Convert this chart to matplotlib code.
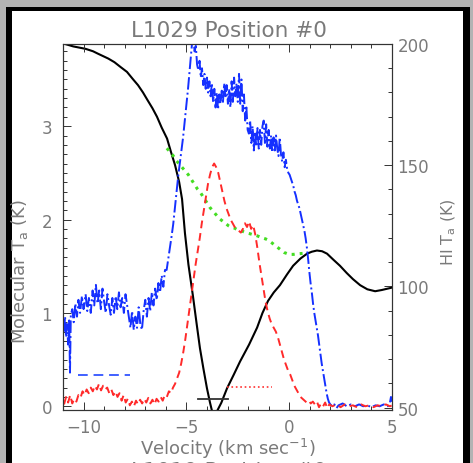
import numpy as np
import matplotlib
matplotlib.use("Agg")
import matplotlib.pyplot as plt
from matplotlib.patches import Rectangle
from matplotlib.ticker import MultipleLocator

plt.rcParams['font.family'] = ['DejaVu Sans']
plt.rcParams['mathtext.fontset'] = 'dejavusans'

# =========================
# DATA
# =========================
# molecular line, blue (left axis, K)
blue_v = [-10.95, -10.9, -10.85, -10.8, -10.75, -10.7, -10.66, -10.62, -10.55, -10.48,
          -10.4, -10.32, -10.25, -10.17, -10.08, -10.0, -9.9, -9.82, -9.74, -9.65,
          -9.56, -9.48, -9.4, -9.32, -9.24, -9.16, -9.08, -9.0, -8.92, -8.84,
          -8.76, -8.68, -8.6, -8.52, -8.44, -8.36, -8.28, -8.2, -8.12, -8.04,
          -7.96, -7.88, -7.8, -7.72, -7.64, -7.56, -7.48, -7.4, -7.32, -7.24,
          -7.16, -7.08, -7.0, -6.92, -6.84, -6.76, -6.68, -6.6, -6.52, -6.44,
          -6.36, -6.28, -6.2, -6.12, -6.04, -5.96, -5.88, -5.8, -5.72, -5.64,
          -5.56, -5.48, -5.4, -5.32, -5.24, -5.16, -5.08, -5.0, -4.92, -4.85,
          -4.78, -4.72, -4.66, -4.6, -4.54, -4.48, -4.42, -4.36, -4.3, -4.24,
          -4.18, -4.12, -4.06, -4.0, -3.94, -3.88, -3.82, -3.76, -3.7, -3.64,
          -3.58, -3.52, -3.46, -3.4, -3.34, -3.28, -3.22, -3.16, -3.1, -3.04,
          -2.98, -2.92, -2.86, -2.8, -2.74, -2.68, -2.62, -2.56, -2.5, -2.44,
          -2.38, -2.32, -2.26, -2.2, -2.14, -2.08, -2.02, -1.96, -1.9, -1.84,
          -1.78, -1.72, -1.66, -1.6, -1.54, -1.48, -1.42, -1.36, -1.3, -1.24,
          -1.18, -1.12, -1.06, -1.0, -0.94, -0.88, -0.82, -0.76, -0.7, -0.64,
          -0.58, -0.52, -0.46, -0.4, -0.34, -0.28, -0.22, -0.16, -0.1, -0.04,
          0.02, 0.08, 0.14, 0.2, 0.26, 0.32, 0.38, 0.44, 0.5, 0.56,
          0.62, 0.68, 0.74, 0.8, 0.86, 0.92, 0.98, 1.04, 1.1, 1.16,
          1.22, 1.28, 1.34, 1.4, 1.46, 1.52, 1.58, 1.64, 1.7, 1.76,
          1.82, 1.88, 1.94, 2.0, 2.1, 2.2, 2.3, 2.4, 2.6, 2.8,
          3.0, 3.2, 3.4, 3.6, 3.8, 4.0, 4.2, 4.4, 4.6, 4.8,
          4.9, 4.95, 5.0]
blue_t = [0.80, 0.96, 0.74, 0.88, 0.66, 0.92, 0.36, 0.98, 1.04, 0.90,
          1.10, 0.96, 1.14, 1.00, 1.18, 1.04, 1.20, 1.02, 1.16, 1.00,
          1.24, 1.08, 1.30, 1.10, 1.24, 1.04, 1.26, 1.12, 1.00, 1.20,
          1.08, 0.98, 1.16, 1.00, 1.18, 1.04, 1.22, 1.06, 1.16, 1.00,
          1.20, 1.08, 0.96, 0.84, 1.02, 0.82, 0.96, 0.84, 1.06, 0.88,
          0.82, 1.02, 1.14, 0.96, 1.16, 1.02, 1.22, 1.08, 1.26, 1.14,
          1.32, 1.22, 1.40, 1.28, 1.46, 1.46, 1.58, 1.70, 1.82, 1.95,
          2.12, 2.30, 2.46, 2.60, 2.74, 2.88, 3.05, 3.22, 3.40, 3.58,
          3.75, 3.90, 3.95, 3.80, 3.86, 3.66, 3.60, 3.70, 3.52, 3.62,
          3.44, 3.56, 3.40, 3.52, 3.36, 3.48, 3.32, 3.46, 3.26, 3.40,
          3.20, 3.36, 3.18, 3.34, 3.24, 3.38, 3.26, 3.46, 3.30, 3.44,
          3.24, 3.40, 3.20, 3.48, 3.26, 3.52, 3.32, 3.46, 3.26, 3.56,
          3.24, 3.50, 3.16, 3.34, 3.06, 3.20, 2.96, 2.92, 3.06, 2.82,
          3.00, 2.74, 2.94, 2.78, 2.98, 2.76, 2.96, 2.80, 3.00, 3.06,
          2.82, 3.02, 2.78, 2.96, 2.76, 2.90, 2.72, 2.88, 2.74, 2.90,
          2.76, 2.68, 2.88, 2.70, 2.62, 2.72, 2.56, 2.64, 2.54, 2.50,
          2.48, 2.44, 2.40, 2.36, 2.30, 2.26, 2.20, 2.16, 2.12, 2.06,
          2.00, 1.94, 1.88, 1.80, 1.70, 1.58, 1.44, 1.32, 1.22, 1.10,
          1.00, 0.92, 0.84, 0.76, 0.66, 0.56, 0.46, 0.38, 0.30, 0.22,
          0.14, 0.08, 0.04, 0.02, 0.00, 0.02, -0.02, 0.01, 0.03, 0.00,
          0.02, 0.00, 0.02, 0.00, 0.01, -0.01, 0.01, 0.00, 0.02, 0.00,
          0.04, 0.10, 0.05]

# molecular line, red (left axis, K)
red_v = [-10.95, -10.85, -10.75, -10.65, -10.55, -10.45, -10.35, -10.25, -10.15, -10.05,
         -9.95, -9.85, -9.75, -9.65, -9.55, -9.45, -9.35, -9.25, -9.15, -9.05,
         -8.95, -8.85, -8.75, -8.65, -8.55, -8.45, -8.35, -8.25, -8.15, -8.05,
         -7.95, -7.85, -7.75, -7.65, -7.55, -7.45, -7.35, -7.25, -7.15, -7.05,
         -6.95, -6.85, -6.75, -6.65, -6.55, -6.45, -6.35, -6.25, -6.15, -6.05,
         -5.95, -5.85, -5.75, -5.65, -5.55, -5.45, -5.35, -5.25, -5.15, -5.05,
         -4.95, -4.85, -4.75, -4.65, -4.55, -4.45, -4.35, -4.25, -4.15, -4.05,
         -3.95, -3.85, -3.75, -3.65, -3.55, -3.45, -3.35, -3.25, -3.15, -3.05,
         -2.95, -2.85, -2.75, -2.65, -2.55, -2.45, -2.35, -2.25, -2.15, -2.05,
         -1.95, -1.85, -1.75, -1.65, -1.55, -1.45, -1.35, -1.25, -1.15, -1.05,
         -0.95, -0.85, -0.75, -0.65, -0.55, -0.45, -0.35, -0.25, -0.15, -0.05,
         0.05, 0.15, 0.25, 0.35, 0.45, 0.55, 0.65, 0.75, 0.85, 0.95,
         1.05, 1.15, 1.25, 1.35, 1.45, 1.55, 1.65, 1.75, 1.85, 1.95,
         2.1, 2.3, 2.5, 2.7, 2.9, 3.1, 3.3, 3.5, 3.7, 3.9,
         4.1, 4.3, 4.5, 4.7, 4.9, 5.0]
red_t = [0.02, 0.10, 0.04, 0.12, 0.03, 0.08, 0.05, 0.12, 0.09, 0.16,
         0.12, 0.18, 0.14, 0.20, 0.16, 0.22, 0.18, 0.24, 0.17, 0.22,
         0.18, 0.20, 0.14, 0.18, 0.12, 0.16, 0.10, 0.14, 0.06, 0.12,
         0.04, 0.08, 0.01, 0.05, 0.00, 0.06, 0.02, 0.07, 0.03, 0.08,
         0.04, 0.09, 0.03, 0.07, 0.02, 0.08, 0.05, 0.10, 0.06, 0.12,
         0.10, 0.16, 0.14, 0.20, 0.24, 0.30, 0.36, 0.46, 0.58, 0.72,
         0.88, 1.04, 1.20, 1.36, 1.52, 1.66, 1.80, 1.96, 2.10, 2.24,
         2.38, 2.48, 2.56, 2.60, 2.56, 2.50, 2.40, 2.30, 2.20, 2.12,
         2.06, 2.00, 1.96, 1.92, 1.90, 1.88, 1.86, 1.90, 1.96, 1.92,
         1.98, 1.90, 1.94, 1.84, 1.70, 1.54, 1.40, 1.26, 1.12, 1.02,
         0.94, 0.88, 0.84, 0.80, 0.74, 0.66, 0.58, 0.50, 0.44, 0.38,
         0.34, 0.28, 0.22, 0.18, 0.14, 0.10, 0.08, 0.06, 0.04, 0.06,
         0.03, 0.05, 0.02, 0.05, -0.01, 0.03, 0.00, 0.04, -0.02, 0.02,
         0.00, 0.02, -0.01, 0.02, 0.00, 0.01, -0.01, 0.02, 0.00, 0.01,
         -0.01, 0.01, 0.00, 0.02, 0.00, 0.01]

# HI spectrum, black (right axis, K)
hi_v = [-11.0, -10.9, -10.7, -10.5, -10.2, -9.9, -9.54, -9.3, -9.05, -8.8,
        -8.5, -8.2, -7.89, -7.6, -7.35, -7.11, -6.9, -6.65, -6.43, -6.2,
        -5.94, -5.75, -5.55, -5.35, -5.21, -5.07, -4.9, -4.68, -4.5, -4.34,
        -4.17, -4.0, -3.85, -3.75, -3.51, -3.3, -3.02, -2.7, -2.39, -1.95,
        -1.56, -1.3, -1.03, -0.75, -0.45, -0.1, 0.19, 0.55, 0.87, 1.1,
        1.35, 1.6, 1.84, 2.15, 2.47, 2.8, 3.1, 3.45, 3.8, 4.18,
        4.5, 4.75, 5.0]
hi_t = [200.5, 200.0, 199.5, 199.0, 198.5, 198.0, 197.0, 196.0, 195.0, 194.0,
        192.5, 190.5, 188.5, 185.5, 183.0, 180.0, 177.0, 173.5, 170.0, 165.5,
        161.0, 155.5, 150.0, 143.0, 136.0, 122.0, 109.0, 96.0, 84.5, 74.5,
        66.0, 58.0, 52.0, 48.5, 48.5, 52.0, 58.0, 63.5, 69.0, 76.0,
        83.0, 89.0, 94.0, 97.5, 100.5, 105.0, 108.5, 111.5, 113.5, 114.3,
        114.8, 114.5, 113.5, 111.0, 108.5, 105.5, 103.0, 100.5, 98.8, 98.0,
        98.5, 99.0, 99.5]

# green curve (right axis, K)
green_v = [-5.95, -5.8, -5.65, -5.5, -5.35, -5.2, -5.05, -4.9, -4.75, -4.6,
           -4.45, -4.3, -4.15, -4.0, -3.85, -3.7, -3.55, -3.4, -3.25, -3.1,
           -2.95, -2.8, -2.65, -2.5, -2.35, -2.2, -2.05, -1.9, -1.75, -1.6,
           -1.45, -1.3, -1.15, -1.0, -0.85, -0.7, -0.55, -0.4, -0.25, -0.1,
           0.05, 0.2, 0.35, 0.5, 0.65]
green_t = [157.0, 155.5, 154.0, 152.0, 150.5, 149.0, 147.5, 146.0, 144.0, 142.0,
           140.0, 138.5, 136.5, 134.5, 132.5, 131.0, 129.5, 128.0, 127.0, 126.0,
           125.0, 124.3, 124.0, 123.3, 123.0, 122.5, 122.0, 121.7, 121.3, 121.0,
           120.5, 120.0, 119.6, 119.0, 118.0, 117.0, 116.0, 115.0, 114.0, 113.5,
           113.2, 113.2, 113.4, 113.5, 113.6]

# reference bars
blue_bar_v, blue_bar_t = [-10.27, -7.74], [0.34, 0.34]
red_bar_v, red_bar_t = [-3.02, -0.83], [0.21, 0.21]
black_bar_v, black_bar_t = [-4.43, -2.97], [53.7, 53.7]

# =========================
# FIGURE
# =========================
W, H = 473, 464
fig = plt.figure(figsize=(W / 100, H / 100), dpi=100, facecolor='#b3b3b3')

# frame around the panel
fig.patches.append(Rectangle((6 / W, 0), 464 / W, 456 / H, transform=fig.transFigure,
                             facecolor='black', edgecolor='none', zorder=-2))
fig.patches.append(Rectangle((12 / W, 0), 451 / W, 452 / H, transform=fig.transFigure,
                             facecolor='white', edgecolor='none', zorder=-1))

ax = fig.add_axes([63 / W, 53 / H, 329 / W, 366 / H])
ax2 = ax.twinx()
ax.set_zorder(ax2.get_zorder() + 1)
ax.patch.set_visible(False)

txt = '#7a7a7a'

ax.plot(blue_v, blue_t, color='#1530ff', lw=1.4, ls='-.')
ax.plot(red_v, red_t, color='#ff2a2a', lw=1.4, ls=(0, (4, 2.5)))
ax.plot(blue_bar_v, blue_bar_t, color='#4060ff', lw=1.4, ls=(0, (5, 3)))
ax.plot(red_bar_v, red_bar_t, color='#ff3030', lw=1.2, ls=':')

ax2.plot(hi_v, hi_t, color='black', lw=1.5)
ax2.plot(green_v, green_t, color='#44dd22', lw=2.2, ls=':')
ax2.plot(black_bar_v, black_bar_t, color='#333333', lw=1.3)

ax.set_xlim(-11, 5)
ax.set_ylim(-0.04, 3.88)
ax2.set_ylim(49, 200)

ax.xaxis.set_major_locator(MultipleLocator(5))
ax.xaxis.set_minor_locator(MultipleLocator(1))
ax.yaxis.set_major_locator(MultipleLocator(1))
ax.yaxis.set_minor_locator(MultipleLocator(0.1))
ax2.yaxis.set_major_locator(MultipleLocator(50))
ax2.yaxis.set_minor_locator(MultipleLocator(10))

ax.tick_params(which='both', direction='in', top=True, right=False,
               colors='#333333', labelcolor=txt, labelsize=12, width=0.7)
ax.tick_params(axis='x', which='major', length=6, pad=6)
ax.tick_params(axis='y', which='major', length=6, pad=8)
ax.tick_params(which='minor', length=3)
ax2.tick_params(which='both', direction='in', colors='#333333', labelcolor=txt,
                labelsize=12, width=0.7)
ax2.tick_params(which='major', length=6, pad=4)
ax2.tick_params(which='minor', length=3)

for a in (ax, ax2):
    for s in a.spines.values():
        s.set_color('#333333')
        s.set_linewidth(0.8)

ax.set_xlabel('Velocity (km sec$^{-1}$)', color=txt, fontsize=13, labelpad=0)
ax.set_ylabel('Molecular T$_\\mathrm{a}$ (K)', color=txt, fontsize=13)
ax.yaxis.set_label_coords(-0.10, 0.38)
ax2.set_ylabel('HI T$_\\mathrm{a}$ (K)', color=txt, fontsize=11.5, rotation=90)
ax2.yaxis.set_label_coords(1.146, 0.49)

fig.text(229 / W, 1 - 31 / H, 'L1029 Position #0', ha='center', va='center',
         color=txt, fontsize=15.5)
fig.text(229 / W, 1 - 462 / H, 'L1019 Position #0', ha='center', va='top',
         color=txt, fontsize=15.5)

fig.savefig('out.png', dpi=100, facecolor=fig.get_facecolor())
